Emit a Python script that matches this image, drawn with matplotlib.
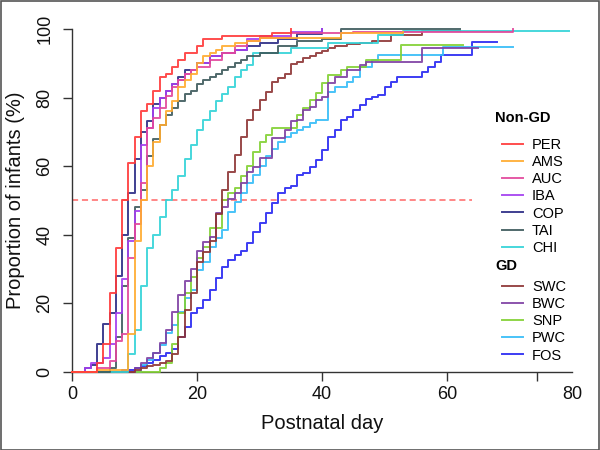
import matplotlib
matplotlib.use("Agg")
import matplotlib.pyplot as plt
from matplotlib.patches import Rectangle
from matplotlib.lines import Line2D

plt.rcParams['font.family'] = ['Liberation Sans', 'DejaVu Sans']

# ---------------- data ----------------
per_days = [0, 4, 5, 6, 7, 8, 9, 10, 11, 12, 13, 14, 15, 16, 17, 18, 20, 21, 24, 32, 35]
per_pct = [0, 2.5, 8, 23, 36, 50, 61, 68.5, 76, 78, 82, 86, 87, 89, 91, 93, 95, 97, 98, 98.7, 100]

ams_days = [0, 4, 9, 10, 11, 12, 13, 14, 15, 16, 17, 18, 19, 20, 21, 22, 23, 24, 26, 28, 30, 43, 53]
ams_pct = [0, 0.5, 11, 38, 50, 60, 67, 72, 76, 79, 83, 85, 87, 90, 92, 93, 94, 95, 95.8, 96.6, 97.5, 98.7, 99]

auc_days = [0, 4, 6, 7, 8, 9, 10, 11, 12, 13, 14, 15, 16, 17, 18, 19, 20, 22, 24, 26, 28, 30, 35, 45, 70.5]
auc_pct = [0, 1, 3, 9, 11, 33, 43, 55, 71, 74, 77, 80.5, 83, 85, 87, 88, 89, 91, 93, 95, 96.5, 97.5, 98.7, 99, 100]

iba_days = [0, 2, 3, 5, 6, 7, 8, 9, 10, 11, 12, 13, 14, 15, 16, 17, 18, 19, 20, 22, 24, 26, 28, 30, 35, 40]
iba_pct = [0, 1, 2.5, 4, 8, 17, 27, 38, 47, 66, 71, 77, 80, 82, 84, 85, 87, 88, 90, 92, 93, 94, 97, 98, 99, 100]

cop_days = [0, 2, 3, 4, 5, 6, 7, 8, 9, 10, 11, 12, 13, 14, 15, 16, 17, 18, 20, 22, 24, 26, 28, 30, 33, 36, 40]
cop_pct = [0, 1, 2, 8, 14, 17, 28, 40, 52, 62, 70, 73, 78, 80, 82, 84, 86, 88, 90, 92, 93, 94, 95, 96, 97, 98.5, 100]

tai_days = [0, 6, 7, 8, 9, 10, 11, 12, 13, 14, 15, 16, 17, 18, 19, 20, 21, 22, 23, 24, 25, 26, 27, 28, 30, 33, 36, 40, 43, 62]
tai_pct = [0, 1, 10, 25, 39, 48, 53, 63, 68, 72, 75, 77, 79, 81, 82, 84, 85, 86, 87, 88, 89, 90, 91, 92, 93, 95, 96.5, 97, 100, 100]

chi_days = [0, 9, 10, 11, 12, 13, 14, 15, 16, 17, 18, 19, 20, 21, 22, 23, 24, 25, 26, 27, 28, 29, 35, 41, 49, 53, 79.5]
chi_pct = [0, 5, 12, 25, 36, 40, 45, 50, 53, 57, 62, 66, 70.5, 73.4, 76, 79, 81, 83, 86, 88, 89.5, 93, 94.4, 96, 98.2, 99.4, 99.4]

swc_days = [0, 10, 11, 12, 13, 14, 15, 16, 17, 18, 19, 20, 21, 22, 23, 24, 25, 26, 27, 28, 29, 30, 31, 32, 33, 34,
            35, 36, 37, 38, 39, 40, 41, 42, 44, 46, 48, 51, 56, 62]
swc_pct = [0, 0.5, 1, 1.5, 2, 2.5, 3, 5, 10, 18, 22.8, 32, 35, 38, 46, 53, 58.3, 63.2, 68.6, 73.4, 76.3, 79.3, 81.7,
           84.6, 85.6, 87, 89.9, 90.5, 91.5, 92, 93, 93.5, 94.4, 95, 95.5, 96, 96.6, 98.3, 99.3, 99.3]

bwc_days = [0, 10, 11, 12, 13, 14, 15, 16, 17, 18, 19, 20, 21, 22, 23, 24, 25, 26, 27, 28, 29, 30, 32, 34, 35, 36,
            37, 38, 39, 40, 41, 42, 44, 46, 47, 56, 65]
bwc_pct = [0, 1.1, 2.4, 3.8, 5.3, 8.2, 12.1, 17.5, 22.3, 26.5, 29.8, 35.2, 37.9, 39.4, 46.2, 48, 50.5, 52, 55, 58.3,
           59.8, 62.2, 68.1, 70.5, 73, 73.4, 76.3, 77.3, 79.3, 80.2, 84.1, 86.1, 88, 89.5, 90.5, 94.4, 94.4]

snp_days = [0, 14, 15, 16, 17, 18, 19, 20, 21, 22, 24, 25, 26, 27, 28, 29, 30, 31, 32, 36, 37, 38, 39, 40, 41, 43,
            44, 47, 52.7, 62.6]
snp_pct = [0, 1, 2.4, 8, 17, 23, 27.7, 33, 36.4, 42, 50, 52, 53.5, 57, 60, 64, 67, 69, 71, 74.9, 76.8, 79.3, 81.4,
           84.1, 86.6, 88, 89, 91, 95.3, 95.3]

pwc_days = [0, 11, 12, 13, 14, 15, 16, 17, 18, 19, 20, 21, 22, 23, 24, 25, 26, 27, 28, 29, 30, 31, 32, 33, 34, 35,
            36, 37, 38, 39, 41, 42, 44, 45, 46, 48, 49, 59.4, 70.5]
pwc_pct = [0, 1.9, 3.4, 5.3, 7.7, 11.1, 13.6, 17.5, 21.4, 23.8, 29.6, 32.1, 36.4, 39.1, 41.3, 46.7, 49.6, 52.2, 55,
           57.5, 60, 63, 65, 67, 68.5, 69.5, 70.5, 71.5, 72.5, 73.5, 81.7, 83.2, 84.6, 86, 88.9, 91, 92.4, 94.8, 94.8]

fos_days = [0, 8, 10, 11, 12, 13, 14, 15, 16, 17, 18, 19, 20, 21, 22, 23, 24, 25, 26, 27, 28, 29, 30, 31, 32, 33,
            34, 35, 36, 37, 38, 39, 40, 41, 42, 43, 44, 45, 46, 47, 48, 49, 50, 51, 52, 56, 57, 58, 59, 64, 68]
fos_pct = [0, 0.5, 1, 1.5, 2.5, 3.5, 4.5, 5.5, 6.5, 10.2, 13.1, 17, 18.4, 20.9, 23.8, 27.2, 30.4, 32.6, 34, 35.2,
           37.6, 40.8, 43.3, 46.2, 49.1, 52.2, 53.5, 54.2, 57.4, 58, 59.8, 61.7, 64.6, 68.6, 70.5, 73.4, 74.4, 76.3,
           77.8, 79.7, 80.2, 80.7, 83.2, 84.6, 86.1, 87.5, 89, 90.5, 92.4, 96.3, 96.3]

nongd_labels = ['PER', 'AMS', 'AUC', 'IBA', 'COP', 'TAI', 'CHI']
gd_labels = ['SWC', 'BWC', 'SNP', 'PWC', 'FOS']
x_ticks = [0, 20, 40, 60, 80]
y_ticks = [0, 20, 40, 60, 80, 100]
ref_level = 50
ref_end = 64

# ---------------- styles ----------------
colors = {
    'PER': '#ff3a3a', 'AMS': '#ffab30', 'AUC': '#e2479c', 'IBA': '#a43ff0', 'COP': '#2b2b85',
    'TAI': '#3d5a5c', 'CHI': '#33d3d8', 'SWC': '#8e3535', 'BWC': '#7f40a3', 'SNP': '#82d134',
    'PWC': '#35bdf8', 'FOS': '#2828f2',
}
series = {
    'PER': (per_days, per_pct), 'AMS': (ams_days, ams_pct), 'AUC': (auc_days, auc_pct),
    'IBA': (iba_days, iba_pct), 'COP': (cop_days, cop_pct), 'TAI': (tai_days, tai_pct),
    'CHI': (chi_days, chi_pct), 'SWC': (swc_days, swc_pct), 'BWC': (bwc_days, bwc_pct),
    'SNP': (snp_days, snp_pct), 'PWC': (pwc_days, pwc_pct), 'FOS': (fos_days, fos_pct),
}

W, H = 600, 450
fig = plt.figure(figsize=(6, 4.5), dpi=100)
ax = fig.add_axes([72 / W, (H - 371.5) / H, 500 / W, (371.5 - 29) / H])

draw_order = ['FOS', 'PWC', 'SNP', 'BWC', 'SWC', 'CHI', 'TAI', 'COP', 'IBA', 'AUC', 'AMS', 'PER']
for name in draw_order:
    d, p = series[name]
    ax.step(d, p, where='post', color=colors[name], lw=1.4, alpha=0.9, clip_on=False, zorder=3)

ax.plot([0, ref_end], [ref_level, ref_level], color='#ff5555', lw=1.1, ls=(0, (4, 2.5)), alpha=0.9, zorder=2)

ax.set_xlim(0, 80)
ax.set_ylim(0, 100)
for s in ['top', 'right']:
    ax.spines[s].set_visible(False)
ax.spines['left'].set_bounds(0, 100)
ax.spines['bottom'].set_bounds(0, 80)
for s in ['left', 'bottom']:
    ax.spines[s].set_color('#333333')
    ax.spines[s].set_linewidth(1.0)

ax.set_xticks(x_ticks)
ax.set_xticklabels([str(t) for t in x_ticks])
ax.set_xticks([74.4], minor=True)
ax.set_yticks(y_ticks)
ax.set_yticklabels([str(t) for t in y_ticks], rotation=90, va='center')
ax.tick_params(axis='both', which='both', direction='out', length=6.5, width=1.0, color='#333333',
               labelsize=13, labelcolor='#111111')
ax.tick_params(axis='x', pad=4)
ax.tick_params(axis='y', pad=7)
ax.xaxis.get_major_ticks()[-1].tick1line.set_visible(False)

ax.set_xlabel('Postnatal day', fontsize=14.5, color='#111111', labelpad=8)
ax.set_ylabel('Proportion of infants (%)', fontsize=14.5, color='#111111', labelpad=8)

# legends
def mk(names):
    return [Line2D([], [], color=colors[n], lw=1.4, alpha=0.9) for n in names]

leg_kw = dict(frameon=False, fontsize=10.5, handlelength=1.45, handletextpad=0.62, labelspacing=0.21,
              borderpad=0, borderaxespad=0, loc='upper left')
leg1 = fig.legend(mk(nongd_labels), nongd_labels, bbox_to_anchor=(501.7 / W, 1 - 138.3 / H), **leg_kw)
leg2 = fig.legend(mk(gd_labels), gd_labels, bbox_to_anchor=(501.7 / W, 1 - 280.3 / H), **leg_kw)
fig.text(495 / W, 1 - 118 / H, 'Non-GD', fontsize=10.5, fontweight='bold', va='center', ha='left')
fig.text(495 / W, 1 - 266 / H, 'GD', fontsize=10.5, fontweight='bold', va='center', ha='left')

fig.patches.append(Rectangle((0.5 / W, 0.5 / H), 1 - 1.5 / W, 1 - 1.5 / H, transform=fig.transFigure,
                             fill=False, edgecolor='#555555', lw=1.2))

fig.savefig('out.png', dpi=100)
